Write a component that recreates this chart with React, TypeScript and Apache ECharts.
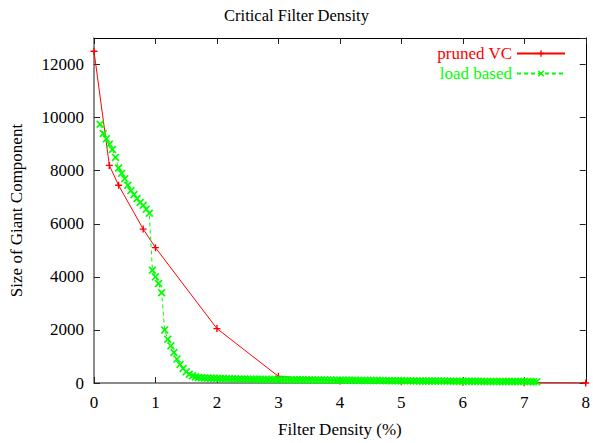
import React, { useEffect, useRef } from "react";
import * as echarts from "echarts";

const prunedX = [0, 0.25, 0.4, 0.8, 1, 2, 3, 4, 5, 6, 7, 8];
const prunedY = [12500, 8200, 7450, 5800, 5100, 2050, 250, 80, 45, 25, 12, 0];

const loadX = [
  0.1, 0.15, 0.2, 0.25, 0.3, 0.35, 0.4, 0.45, 0.5, 0.55,
  0.6, 0.65, 0.7, 0.75, 0.8, 0.85, 0.9, 0.95, 1.0, 1.05,
  1.1, 1.15, 1.2, 1.25, 1.3, 1.35, 1.4, 1.45, 1.5, 1.55,
  1.6, 1.65, 1.7, 1.75, 1.8,
  1.85, 1.9, 1.95, 2.0, 2.05, 2.1, 2.15, 2.2, 2.25, 2.3,
  2.35, 2.4, 2.45, 2.5, 2.55, 2.6, 2.65, 2.7, 2.75, 2.8,
  2.85, 2.9, 2.95, 3.0, 3.05, 3.1, 3.15, 3.2, 3.25, 3.3,
  3.35, 3.4, 3.45, 3.5, 3.55, 3.6, 3.65, 3.7, 3.75, 3.8,
  3.85, 3.9, 3.95, 4.0, 4.05, 4.1, 4.15, 4.2, 4.25, 4.3,
  4.35, 4.4, 4.45, 4.5, 4.55, 4.6, 4.65, 4.7, 4.75, 4.8,
  4.85, 4.9, 4.95, 5.0, 5.05, 5.1, 5.15, 5.2, 5.25, 5.3,
  5.35, 5.4, 5.45, 5.5, 5.55, 5.6, 5.65, 5.7, 5.75, 5.8,
  5.85, 5.9, 5.95, 6.0, 6.05, 6.1, 6.15, 6.2, 6.25, 6.3,
  6.35, 6.4, 6.45, 6.5, 6.55, 6.6, 6.65, 6.7, 6.75, 6.8,
  6.85, 6.9, 6.95, 7.0, 7.05, 7.1, 7.15, 7.2,
];
const loadY = [
  9750, 9400, 9200, 9000, 8800, 8500, 8100, 7900, 7700, 7450,
  7250, 7100, 6950, 6800, 6700, 6550, 6400, 4250, 4000, 3750,
  3400, 2000, 1650, 1400, 1150, 900, 700, 550, 420, 330,
  270, 230, 210, 200, 190,
  185, 180, 176, 172, 168, 165, 162, 158, 157, 156,
  152, 150, 148, 146, 143, 140, 140, 139, 136, 134,
  133, 131, 131, 130, 128, 126, 126, 125, 123, 121,
  121, 120, 118, 117, 116, 115, 113, 111, 111, 110,
  109, 108, 106, 104, 104, 103, 101, 100, 99, 97,
  97, 96, 95, 94, 92, 91, 91, 90, 89, 88,
  86, 85, 85, 84, 83, 82, 81, 80, 78, 77,
  77, 76, 76, 75, 73, 72, 72, 72, 71, 70,
  68, 67, 67, 67, 66, 65, 64, 63, 63, 62,
  61, 61, 60, 60, 59, 58, 57, 57, 56, 56,
  55, 55, 54, 54, 53, 52, 51, 50,
];

const xTicks = [0, 8, 1];
const yTicks = [0, 13000, 2000];

const PLUS = "path://M4,0H6V4H10V6H6V10H4V6H0V4H4Z";
const CROSS =
  "path://M0,1.5L1.5,0L5,3.5L8.5,0L10,1.5L6.5,5L10,8.5L8.5,10L5,6.5L1.5,10L0,8.5L3.5,5Z";

const FONT = "Liberation Serif";

export default function App() {
  const ref = useRef<HTMLDivElement>(null);
  useEffect(() => {
    if (!ref.current) return;
    const chart = echarts.init(ref.current, null, { renderer: "svg" });
    const labelStyle = { fontFamily: FONT, fontSize: 17, color: "#000" };
    const mainLine = { color: "#666", width: 1.5 };
    const mirrorLine = { color: "#000", width: 1 };
    const tickStyle = { color: "#222", width: 1 };
    const option: any = {
      animation: false,
      title: {
        text: "Critical Filter Density",
        left: "center",
        top: 2,
        textStyle: { fontFamily: FONT, fontSize: 16.5, fontWeight: "normal", color: "#000" },
      },
      grid: { left: 93, right: 5, top: 38, bottom: 60 },
      legend: {
        orient: "vertical",
        right: 22,
        top: 40,
        align: "right",
        itemWidth: 48,
        itemHeight: 8,
        itemGap: 3,
        textStyle: { fontFamily: FONT, fontSize: 17 },
        data: [
          { name: "pruned VC", textStyle: { color: "#ff0000" } },
          { name: "load based", textStyle: { color: "#00ff00" } },
        ],
      },
      xAxis: [
        {
          type: "value",
          min: xTicks[0],
          max: xTicks[1],
          interval: xTicks[2],
          name: "Filter Density (%)",
          nameLocation: "middle",
          nameGap: 38,
          nameTextStyle: labelStyle,
          axisLine: { onZero: false, lineStyle: mainLine },
          axisTick: { inside: true, length: 6, lineStyle: tickStyle },
          axisLabel: { ...labelStyle, margin: 11 },
          splitLine: { show: false },
        },
        {
          type: "value",
          position: "top",
          min: xTicks[0],
          max: xTicks[1],
          interval: xTicks[2],
          axisLine: { show: true, onZero: false, lineStyle: mirrorLine },
          axisTick: { inside: true, length: 6, lineStyle: tickStyle },
          axisLabel: { show: false },
          splitLine: { show: false },
        },
      ],
      yAxis: [
        {
          type: "value",
          min: yTicks[0],
          max: yTicks[1],
          interval: yTicks[2],
          name: "Size of Giant Component",
          nameLocation: "middle",
          nameGap: 69,
          nameTextStyle: labelStyle,
          axisLine: { show: true, onZero: false, lineStyle: mainLine },
          axisTick: { inside: true, length: 6, lineStyle: tickStyle },
          axisLabel: {
            ...labelStyle,
            margin: 10,
            showMaxLabel: false,
            formatter: (v: number) => String(v),
          },
          splitLine: { show: false },
        },
        {
          type: "value",
          position: "right",
          min: yTicks[0],
          max: yTicks[1],
          interval: yTicks[2],
          axisLine: { show: true, onZero: false, lineStyle: mirrorLine },
          axisTick: { inside: true, length: 6, lineStyle: tickStyle },
          axisLabel: { show: false },
          splitLine: { show: false },
        },
      ],
      series: [
        {
          name: "pruned VC",
          type: "line",
          data: prunedX.map((x, i) => [x, prunedY[i]]),
          symbol: PLUS,
          symbolSize: 7,
          showAllSymbol: true,
          itemStyle: { color: "#ff0000" },
          lineStyle: { color: "#ff0000", width: 1 },
          z: 2,
        },
        {
          name: "load based",
          type: "line",
          data: loadX.map((x, i) => [x, loadY[i]]),
          symbol: CROSS,
          symbolSize: 8,
          showAllSymbol: true,
          itemStyle: { color: "#00ff00" },
          lineStyle: { color: "#00ff00", width: 1, type: [4, 3] },
          z: 3,
        },
      ],
    };
    chart.setOption(option);
    return () => chart.dispose();
  }, []);
  return (
    <div
      ref={ref}
      style={{ position: "fixed", left: 0, top: 0, width: 593, height: 443, background: "#fff" }}
    />
  );
}
